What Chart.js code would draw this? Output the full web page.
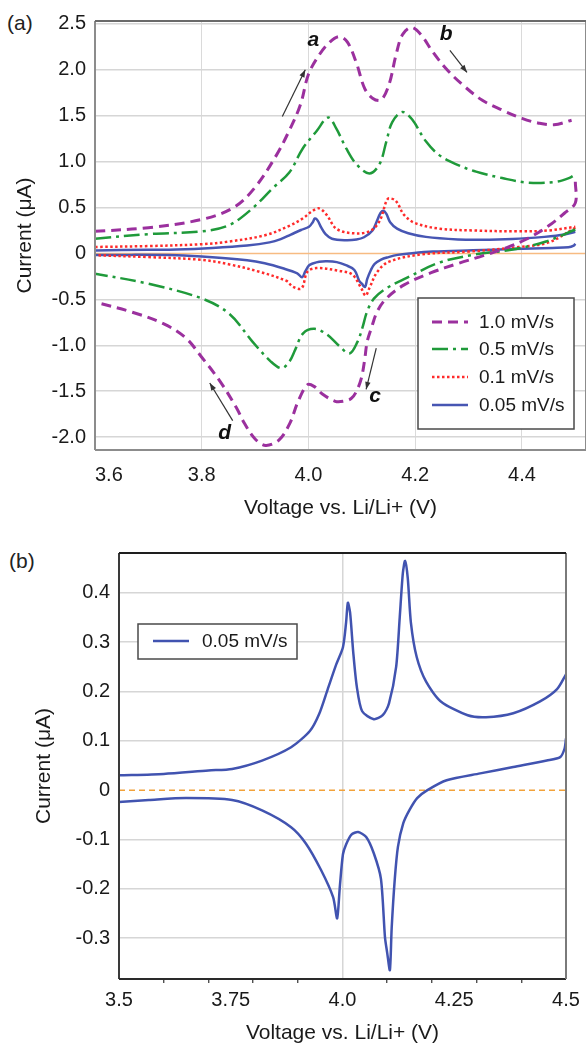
<!DOCTYPE html>
<html>
<head>
<meta charset="utf-8">
<script src="https://cdn.jsdelivr.net/npm/chart.js@4.4.0/dist/chart.umd.min.js"></script>
<style>
  html, body { margin: 0; padding: 0; background: #fff; }
  body { width: 586px; height: 1046px; position: relative; overflow: hidden; font-family: "Liberation Sans", Arial, sans-serif; }
  .panel { position: absolute; left: 0; width: 586px; }
  #wrapA { top: 0; height: 530px; }
  #wrapB { top: 530px; height: 516px; }
  .tag { position: absolute; font-size: 21px; color: #222; line-height: 1; }
</style>
</head>
<body>
<div class="tag" style="left:7px; top:12px;">(a)</div>
<div class="tag" style="left:9px; top:550px;">(b)</div>
<div class="panel" id="wrapA"><canvas id="cvA"></canvas></div>
<div class="panel" id="wrapB"><canvas id="cvB"></canvas></div>
<script>
// ---- data (voltage V, current uA) ----
// 1.0 mV/s
const vOx10  = [3.60, 3.70, 3.80, 3.86, 3.90, 3.94, 3.965, 3.985, 4.00, 4.02, 4.04, 4.058, 4.073, 4.09, 4.105, 4.12, 4.136, 4.151, 4.164, 4.176, 4.193, 4.211, 4.232, 4.258, 4.288, 4.325, 4.363, 4.40, 4.43, 4.46, 4.493];
const iOx10  = [0.24, 0.28, 0.37, 0.50, 0.72, 1.07, 1.35, 1.62, 1.95, 2.16, 2.30, 2.36, 2.30, 2.07, 1.80, 1.69, 1.67, 1.84, 2.16, 2.38, 2.46, 2.38, 2.20, 2.01, 1.84, 1.67, 1.56, 1.47, 1.42, 1.40, 1.45];
const vRed10 = [4.50, 4.50, 4.48, 4.45, 4.41, 4.37, 4.33, 4.28, 4.23, 4.18, 4.146, 4.129, 4.118, 4.11, 4.105, 4.099, 4.09, 4.08, 4.065, 4.05, 4.026, 4.011, 3.998, 3.98, 3.965, 3.945, 3.92, 3.90, 3.88, 3.865, 3.834, 3.80, 3.77, 3.73, 3.67, 3.60];
const iRed10 = [0.78, 0.55, 0.44, 0.30, 0.16, 0.06, -0.02, -0.11, -0.21, -0.34, -0.49, -0.63, -0.81, -0.96, -1.17, -1.36, -1.50, -1.58, -1.61, -1.61, -1.53, -1.45, -1.43, -1.62, -1.85, -2.03, -2.09, -2.02, -1.85, -1.68, -1.39, -1.13, -0.92, -0.77, -0.64, -0.53];
// 0.5 mV/s
const vOx05  = [3.60, 3.70, 3.80, 3.852, 3.895, 3.933, 3.964, 3.989, 4.015, 4.037, 4.052, 4.071, 4.09, 4.114, 4.133, 4.146, 4.157, 4.176, 4.194, 4.22, 4.245, 4.277, 4.314, 4.363, 4.413, 4.464, 4.488, 4.50];
const iOx05  = [0.16, 0.21, 0.24, 0.31, 0.49, 0.71, 0.88, 1.14, 1.33, 1.48, 1.36, 1.14, 0.97, 0.87, 0.97, 1.22, 1.43, 1.54, 1.46, 1.22, 1.07, 0.97, 0.89, 0.82, 0.77, 0.78, 0.82, 0.86];
const vRed05 = [4.50, 4.445, 4.38, 4.314, 4.245, 4.183, 4.146, 4.123, 4.11, 4.101, 4.092, 4.077, 4.058, 4.034, 4.011, 3.99, 3.975, 3.965, 3.95, 3.93, 3.895, 3.852, 3.80, 3.70, 3.60];
const iRed05 = [0.26, 0.13, 0.04, -0.01, -0.10, -0.27, -0.38, -0.49, -0.63, -0.81, -0.96, -1.09, -1.01, -0.88, -0.82, -0.87, -1.05, -1.17, -1.25, -1.18, -0.96, -0.66, -0.49, -0.33, -0.22];
// 0.1 mV/s
const vOx01  = [3.60, 3.70, 3.80, 3.852, 3.92, 3.964, 3.989, 4.007, 4.02, 4.034, 4.052, 4.082, 4.114, 4.133, 4.146, 4.151, 4.164, 4.179, 4.20, 4.245, 4.307, 4.394, 4.45, 4.50];
const iOx01  = [0.07, 0.08, 0.10, 0.13, 0.20, 0.30, 0.38, 0.46, 0.49, 0.42, 0.27, 0.22, 0.24, 0.35, 0.57, 0.60, 0.57, 0.42, 0.33, 0.27, 0.25, 0.24, 0.25, 0.29];
const vRed01 = [4.50, 4.45, 4.394, 4.30, 4.213, 4.151, 4.129, 4.114, 4.107, 4.099, 4.082, 4.058, 4.015, 3.998, 3.987, 3.97, 3.959, 3.908, 3.852, 3.80, 3.70, 3.60];
const iRed01 = [0.28, 0.12, 0.07, 0.02, -0.01, -0.09, -0.20, -0.38, -0.46, -0.38, -0.23, -0.19, -0.16, -0.20, -0.38, -0.36, -0.30, -0.20, -0.12, -0.07, -0.04, -0.02];
// 0.05 mV/s (shown in both panels)
const vOx005  = [3.50, 3.60, 3.70, 3.753, 3.82, 3.885, 3.927, 3.948, 3.967, 3.986, 4.001, 4.008, 4.012, 4.017, 4.024, 4.032, 4.044, 4.07, 4.09, 4.104, 4.12, 4.128, 4.135, 4.14, 4.146, 4.153, 4.166, 4.187, 4.22, 4.28, 4.321, 4.382, 4.442, 4.48, 4.50];
const iOx005  = [0.030, 0.033, 0.040, 0.043, 0.060, 0.087, 0.12, 0.155, 0.205, 0.255, 0.29, 0.34, 0.38, 0.36, 0.28, 0.21, 0.16, 0.144, 0.152, 0.176, 0.25, 0.35, 0.44, 0.465, 0.43, 0.34, 0.27, 0.22, 0.18, 0.152, 0.148, 0.156, 0.18, 0.205, 0.235];
const vRed005 = [4.50, 4.497, 4.487, 4.457, 4.382, 4.308, 4.233, 4.19, 4.167, 4.150, 4.136, 4.124, 4.117, 4.11, 4.106, 4.10, 4.095, 4.086, 4.07, 4.053, 4.035, 4.02, 4.008, 4.001, 3.994, 3.988, 3.979, 3.952, 3.918, 3.885, 3.82, 3.753, 3.65, 3.567, 3.50];
const iRed005 = [0.105, 0.085, 0.067, 0.060, 0.047, 0.034, 0.020, 0.000, -0.016, -0.040, -0.067, -0.115, -0.18, -0.28, -0.365, -0.33, -0.298, -0.18, -0.128, -0.095, -0.085, -0.09, -0.11, -0.13, -0.196, -0.26, -0.217, -0.162, -0.108, -0.075, -0.041, -0.020, -0.016, -0.020, -0.024];

const seriesLabels = ['1.0 mV/s', '0.5 mV/s', '0.1 mV/s', '0.05 mV/s'];

// tick values
const xTicksA = [3.6, 3.8, 4.0, 4.2, 4.4];
const yTicksA = [-2.0, -1.5, -1.0, -0.5, 0, 0.5, 1.0, 1.5, 2.0, 2.5];
const xLabelTicksB = [3.5, 3.75, 4.0, 4.25, 4.5];
const xLabelTextB = ['3.5', '3.75', '4.0', '4.25', '4.5'];
const xMinorTicksB = [3.6, 3.7, 3.8, 3.9, 4.1, 4.2, 4.3, 4.4];
const yTicksB = [-0.3, -0.2, -0.1, 0, 0.1, 0.2, 0.3, 0.4];

const FONT = '"Liberation Sans", Arial, sans-serif';
const same = (a, b) => Math.abs(a - b) < 1e-6;

// anodic sweep, a break, then the cathodic sweep
function loop(vOx, iOx, vRed, iRed) {
  const pts = vOx.map((v, k) => ({ x: v, y: iOx[k] }));
  pts.push({ x: null, y: null });
  vRed.forEach((v, k) => pts.push({ x: v, y: iRed[k] }));
  return pts;
}

// frame round the plot area
const framePlugin = {
  id: 'frame',
  afterDraw(chart, args, opts) {
    const { ctx, chartArea: a } = chart;
    const c = opts.colors;
    ctx.save();
    ctx.lineWidth = opts.width;
    const side = (col, x1, y1, x2, y2) => {
      ctx.strokeStyle = col;
      ctx.beginPath(); ctx.moveTo(x1, y1); ctx.lineTo(x2, y2); ctx.stroke();
    };
    side(c.left, a.left, a.top, a.left, a.bottom);
    side(c.bottom, a.left, a.bottom, a.right, a.bottom);
    side(c.right, a.right, a.top, a.right, a.bottom);
    side(c.top, a.left, a.top, a.right, a.top);
    ctx.restore();
  }
};

// zero current line
const zeroPlugin = {
  id: 'zeroLine',
  beforeDatasetsDraw(chart, args, opts) {
    const { ctx, chartArea: a, scales } = chart;
    const y = scales.y.getPixelForValue(0);
    ctx.save();
    ctx.strokeStyle = opts.color;
    ctx.lineWidth = opts.width;
    ctx.setLineDash(opts.dash || []);
    ctx.beginPath(); ctx.moveTo(a.left, y); ctx.lineTo(a.right, y); ctx.stroke();
    ctx.restore();
  }
};

// boxed legend inside the plot
const boxLegendPlugin = {
  id: 'boxLegend',
  afterDraw(chart, args, opts) {
    const { ctx } = chart;
    const [l, t, r, b] = opts.box;
    ctx.save();
    ctx.fillStyle = '#fff';
    ctx.fillRect(l, t, r - l, b - t);
    ctx.strokeStyle = '#4a4a4a';
    ctx.lineWidth = 1.5;
    ctx.strokeRect(l, t, r - l, b - t);
    ctx.font = '19px ' + FONT;
    ctx.textBaseline = 'middle';
    ctx.textAlign = 'left';
    chart.data.datasets.forEach((ds, k) => {
      const y = opts.rows[k];
      ctx.strokeStyle = ds.borderColor;
      ctx.lineWidth = ds.borderWidth;
      ctx.setLineDash(ds.borderDash || []);
      ctx.beginPath(); ctx.moveTo(opts.lineX[0], y); ctx.lineTo(opts.lineX[1], y); ctx.stroke();
      ctx.setLineDash([]);
      ctx.fillStyle = '#1a1a1a';
      ctx.fillText(ds.label, opts.textX, y + 1);
    });
    ctx.restore();
  }
};

// letters and arrows marking the sweep direction
const notesPlugin = {
  id: 'notes',
  afterDatasetsDraw(chart, args, opts) {
    const { ctx, scales: { x, y } } = chart;
    ctx.save();
    ctx.strokeStyle = '#333';
    ctx.fillStyle = '#333';
    ctx.lineWidth = 1.2;
    opts.arrows.forEach(ar => {
      const x1 = x.getPixelForValue(ar.from[0]), y1 = y.getPixelForValue(ar.from[1]);
      const x2 = x.getPixelForValue(ar.to[0]), y2 = y.getPixelForValue(ar.to[1]);
      const ang = Math.atan2(y2 - y1, x2 - x1);
      ctx.beginPath(); ctx.moveTo(x1, y1); ctx.lineTo(x2, y2); ctx.stroke();
      ctx.beginPath();
      ctx.moveTo(x2, y2);
      ctx.lineTo(x2 - 8 * Math.cos(ang - 0.35), y2 - 8 * Math.sin(ang - 0.35));
      ctx.lineTo(x2 - 8 * Math.cos(ang + 0.35), y2 - 8 * Math.sin(ang + 0.35));
      ctx.closePath(); ctx.fill();
    });
    ctx.fillStyle = '#111';
    ctx.font = 'italic bold 21px ' + FONT;
    ctx.textAlign = 'center';
    ctx.textBaseline = 'middle';
    opts.labels.forEach(lb => {
      ctx.fillText(lb.text, x.getPixelForValue(lb.x), y.getPixelForValue(lb.y));
    });
    ctx.restore();
  }
};

const tickFont = { family: FONT, size: 20 };
const titleFont = { family: FONT, size: 21 };
const fmt1 = v => (same(v, 0) ? '0' : v.toFixed(1));
const X_MAX_A = 4.52;

// ---------- panel (a) ----------
new Chart(document.getElementById('cvA'), {
  type: 'scatter',
  data: {
    datasets: [
      { label: seriesLabels[0], data: loop(vOx10, iOx10, vRed10, iRed10), borderColor: '#9b309e', borderWidth: 3, borderDash: [10, 6] },
      { label: seriesLabels[1], data: loop(vOx05, iOx05, vRed05, iRed05), borderColor: '#1f9a3a', borderWidth: 2.5, borderDash: [16, 5, 3, 5] },
      { label: seriesLabels[2], data: loop(vOx01, iOx01, vRed01, iRed01), borderColor: '#ff2b2b', borderWidth: 2.5, borderDash: [2.5, 2.5] },
      { label: seriesLabels[3], data: loop(vOx005, iOx005, vRed005, iRed005), borderColor: '#4756b3', borderWidth: 2.5 }
    ].map(ds => Object.assign(ds, { showLine: true, pointRadius: 0, tension: 0.35, fill: false, spanGaps: false }))
  },
  options: {
    responsive: true,
    maintainAspectRatio: false,
    animation: false,
    layout: { padding: { left: 0, right: 0, top: 20, bottom: 0 } },
    plugins: {
      legend: { display: false },
      tooltip: { enabled: false },
      frame: { width: 2, colors: { top: '#6a6a6a', left: '#8c8c8c', bottom: '#8c8c8c', right: '#8c8c8c' } },
      zeroLine: { color: '#f7bb82', width: 1.5 },
      boxLegend: { box: [418, 298, 574, 429], rows: [322, 349, 377, 405], lineX: [432, 468], textX: 479 },
      notes: {
        labels: [
          { text: 'a', x: 4.009, y: 2.32 }, { text: 'b', x: 4.258, y: 2.39 },
          { text: 'c', x: 4.125, y: -1.55 }, { text: 'd', x: 3.843, y: -1.96 }
        ],
        arrows: [
          { from: [3.951, 1.49], to: [3.994, 2.0] }, { from: [4.265, 2.21], to: [4.297, 1.97] },
          { from: [4.127, -1.03], to: [4.108, -1.48] }, { from: [3.858, -1.82], to: [3.815, -1.41] }
        ]
      }
    },
    scales: {
      x: {
        type: 'linear', min: 3.6, max: X_MAX_A,
        // an unlabelled end tick lets 'inner' alignment push only the first label inside
        afterBuildTicks: s => { s.ticks = xTicksA.concat([X_MAX_A]).map(v => ({ value: v })); },
        afterFit: s => { s.height = 80; s.paddingLeft = 0; s.paddingRight = 0; },
        border: { display: false },
        grid: { color: c => (c.tick && same(c.tick.value, X_MAX_A) ? 'rgba(0,0,0,0)' : '#dadada'), lineWidth: 1, drawTicks: false },
        ticks: { font: tickFont, color: '#1a1a1a', padding: 13, maxRotation: 0, autoSkip: false, align: 'inner',
                 callback: v => (same(v, X_MAX_A) ? '' : v.toFixed(1)) },
        title: { display: true, text: 'Voltage vs. Li/Li+ (V)', font: titleFont, color: '#1a1a1a', padding: { top: 0, bottom: 9 } }
      },
      y: {
        type: 'linear', min: -2.14, max: 2.53,
        afterBuildTicks: s => { s.ticks = yTicksA.map(v => ({ value: v })); },
        afterFit: s => { s.width = 95; },
        border: { display: false },
        grid: { color: c => (c.tick && same(c.tick.value, 0) ? 'rgba(0,0,0,0)' : '#d6d6d6'), lineWidth: 1.5, drawTicks: false },
        ticks: { font: tickFont, color: '#1a1a1a', padding: 9, callback: fmt1 },
        title: { display: true, text: 'Current (μA)', font: titleFont, color: '#1a1a1a', padding: { top: 13, bottom: 0 } }
      }
    }
  },
  plugins: [zeroPlugin, framePlugin, notesPlugin, boxLegendPlugin]
});

// ---------- panel (b) ----------
const xTicksB = xLabelTicksB.concat(xMinorTicksB).sort((a, b) => a - b);
const isLabelB = v => xLabelTicksB.some(t => same(t, v));

new Chart(document.getElementById('cvB'), {
  type: 'scatter',
  data: {
    datasets: [
      { label: seriesLabels[3], data: loop(vOx005, iOx005, vRed005, iRed005), borderColor: '#4153b0', borderWidth: 2.5,
        showLine: true, pointRadius: 0, tension: 0.25, fill: false, spanGaps: false }
    ]
  },
  options: {
    responsive: true,
    maintainAspectRatio: false,
    animation: false,
    layout: { padding: { left: 0, right: 20, top: 23, bottom: 0 } },
    plugins: {
      legend: { display: false },
      tooltip: { enabled: false },
      frame: { width: 2, colors: { top: '#1e1e1e', left: '#3a3a3a', bottom: '#2a2a2a', right: '#7a7a7a' } },
      zeroLine: { color: '#f2a23a', width: 1.5, dash: [6, 4] },
      boxLegend: { box: [138, 94, 297, 129], rows: [111], lineX: [153, 189], textX: 202 }
    },
    scales: {
      x: {
        type: 'linear', min: 3.5, max: 4.5,
        afterBuildTicks: s => { s.ticks = xTicksB.map(v => ({ value: v })); },
        afterFit: s => { s.height = 67; },
        border: { display: false },
        grid: {
          color: c => (c.tick && same(c.tick.value, 4.0) ? '#d6d6d6' : 'rgba(0,0,0,0)'),
          tickColor: c => (c.tick && !isLabelB(c.tick.value) ? '#333' : 'rgba(0,0,0,0)'),
          lineWidth: 1.5, tickLength: 4, tickWidth: 1.2
        },
        ticks: {
          font: tickFont, color: '#1a1a1a', padding: 5, maxRotation: 0, autoSkip: false,
          callback: v => { const k = xLabelTicksB.findIndex(t => same(t, v)); return k < 0 ? '' : xLabelTextB[k]; }
        },
        title: { display: true, text: 'Voltage vs. Li/Li+ (V)', font: titleFont, color: '#1a1a1a', padding: { top: 0, bottom: 0 } }
      },
      y: {
        type: 'linear', min: -0.383, max: 0.481,
        afterBuildTicks: s => { s.ticks = yTicksB.map(v => ({ value: v })); },
        afterFit: s => { s.width = 119; },
        border: { display: false },
        grid: { color: c => (c.tick && same(c.tick.value, 0) ? 'rgba(0,0,0,0)' : '#d6d6d6'), lineWidth: 1.5, drawTicks: false },
        ticks: { font: tickFont, color: '#1a1a1a', padding: 9, callback: fmt1 },
        title: { display: true, text: 'Current (μA)', font: titleFont, color: '#1a1a1a', padding: { top: 32, bottom: 0 } }
      }
    }
  },
  plugins: [zeroPlugin, framePlugin, boxLegendPlugin]
});
</script>
</body>
</html>
